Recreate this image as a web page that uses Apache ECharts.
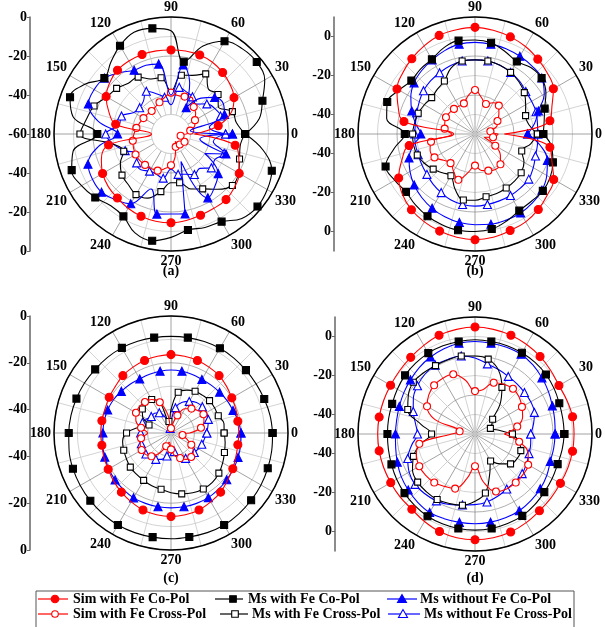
<!DOCTYPE html>
<html><head><meta charset="utf-8">
<script src="https://cdn.jsdelivr.net/npm/echarts@6/dist/echarts.min.js"></script>
<style>html,body{margin:0;padding:0;background:#fff}#c{width:605px;height:627px}</style>
</head><body><div id="c"></div>
<script>
// ---------- data ----------
const angles = [0,10,20,30,40,50,60,70,80,90,100,110,120,130,140,150,160,170,180,190,200,210,220,230,240,250,260,270,280,290,300,310,320,330,340,350];
const angleTicks = [0,30,60,90,120,150,180,210,240,270,300,330];
const seriesNames = ['Sim with Fe Co-Pol','Ms with Fe Co-Pol','Ms without Fe Co-Pol','Sim with Fe Cross-Pol','Ms with Fe Cross-Pol','Ms without Fe Cross-Pol'];
const panelCaptions = ['(a)','(b)','(c)','(d)'];

// (a)  radial range -60 .. 0 dB
const aSimCo = [-48,-35.4,-27,-22.7,-20.5,-18.8,-17.5,-16.9,-16.8,-16.9,-16.7,-16.6,-16.8,-17.3,-19,-21.6,-26,-31.2,-50,-27.5,-22,-19.5,-18,-17.2,-16,-15.1,-14.6,-14.5,-15,-15.7,-16,-16.1,-17.5,-19.6,-23,-26.6];
const aMsCo  = [-22,-14,-10.1,-4.5,-2.6,-3,-5.1,-12,-22.4,-7,-5,-4.5,-7.7,-12,-15.4,-9,-4.9,-9,-22.2,-9,-5.8,-7,-9.3,-12,-11.2,-6,-4.4,-7,-10,-9,-8.1,-3.5,-2.1,-3,-5,-12];
const aNoCo  = [-28.5,-50,-30.8,-29,-30.8,-36,-44.4,-32,-24.1,-40,-23.6,-22.5,-22.2,-19,-15.4,-14.5,-14.9,-22,-32.6,-22,-14.7,-13.5,-13.5,-16,-18.7,-30,-18.3,-19,-18.4,-45,-22.2,-25,-28.4,-40,-30,-45];
const aSimX  = [-52,-50,-47,-45.8,-43.5,-41.9,-38.4,-39.6,-40,-38.8,-41,-42.7,-44,-44.6,-44.2,-43.7,-43,-42,-41,-40.1,-39.5,-39,-39,-39.3,-39.5,-40,-42,-44,-48,-53,-55.6,-53,-51.5,-52,-54,-55];
const aMsX   = [-22,-26,-26.5,-32,-28.5,-30,-24.4,-28,-29.4,-38,-30.7,-30,-26.3,-26,-23.6,-22,-18,-16,-13.3,-30,-34.2,-30,-27.2,-26,-24.1,-25,-30,-35,-34.6,-30,-27.5,-23,-18.9,-20,-22.6,-24];
const aNoX   = [-32,-40,-33,-34,-36,-40,-38,-37,-35.7,-45,-40.9,-38,-34.7,-38,-39,-38,-33,-33,-26.5,-30,-35,-40,-37,-36,-38,-38,-37,-42,-39,-38,-36,-37,-33,-34,-31,-38];

// (b)  radial range -50 .. 10 dB
const bSimCo = [-35,-11,-8,-3.6,-1.5,0.1,1.8,3,4,4.7,4.3,3.8,2.2,0.4,-1.5,-3.8,-8,-13,-39,-15.7,-10,-4.8,-1.5,0.7,2,3,3.8,4.2,3.8,2.7,2,0.5,-1.5,-3.4,-8,-11];
const bMsCo  = [-15,-14,-12,-8,-5.4,-5.5,-7.1,-5,-2.5,-1.8,-1.4,-3,-5.8,-6.5,-7.4,-5,-2.1,-4,-14,-8,-1.2,-2.5,-3.8,-2.5,-1.3,-0.5,0.1,0,-0.5,-2.5,-4.6,-5,-4.6,-5.5,-7.5,-10];
const bNoCo  = [-23,-19,-15.4,-9,-5.3,-4.5,-4,-3.5,-3.2,-3,-3.2,-4.5,-6.1,-7.5,-9.2,-12,-15.5,-19,-22.2,-18,-14,-11.5,-9.3,-7.5,-6,-4.8,-3.9,-3.5,-3,-3,-3.2,-4,-5.2,-7.5,-10.5,-16];
const bSimX  = [-38,-42,-38,-36.7,-34,-31,-31.5,-33.6,-31,-27.4,-30,-33.3,-33.5,-33.2,-33,-32.8,-33.5,-34.2,-38,-27.1,-25.5,-26,-29,-30.5,-28,-25,-30,-33.8,-31,-30,-29,-29.7,-33,-38,-45,-40.6];
const bMsX   = [-18,-22,-22.4,-20,-17,-15,-13.5,-12.5,-12,-12,-12,-14,-18.6,-20,-21,-20,-19,-18.5,-18,-18,-18.5,-20,-22,-24,-25.3,-20,-15.6,-16,-17.3,-17.5,-18,-18.5,-19.1,-21,-24.5,-21];
const bNoX   = [-17.8,-17.5,-16.7,-16.5,-16,-14.5,-13.5,-12.5,-12,-12,-12,-12.8,-13.7,-14.5,-15.5,-17,-18.2,-19,-19.1,-19,-19,-18.5,-17.8,-16.5,-15.3,-14,-13.3,-13,-13.3,-13.5,-13.6,-13.8,-14,-15.5,-17,-17.5];

// (c)  radial range -50 .. 0 dB
const cSimCo = [-21,-21,-20.5,-20,-19,-18,-17.5,-17,-16.7,-16.5,-16.7,-17,-17.5,-18,-19,-19.5,-20,-20,-20,-20,-19.5,-19,-18,-17,-16,-15,-14.5,-14.3,-14.5,-15,-16,-17,-18.5,-19.5,-20.5,-21];
const cMsCo  = [-6.6,-7,-7.6,-8,-8.2,-8.2,-8.2,-8.4,-8.6,-8.7,-8.6,-8.3,-8,-7.8,-7.7,-7.3,-7,-6.6,-6.3,-5.8,-5.4,-5.2,-5,-4.8,-4.6,-4.7,-4.8,-4.8,-4.9,-4.7,-4.6,-4.9,-5.3,-5.6,-6,-6.3];
const cNoCo  = [-20.1,-20.8,-21.8,-22.3,-22.9,-23.3,-23.6,-23.4,-23.2,-23.1,-23.2,-23.3,-23.3,-22.8,-22.3,-21.6,-21.2,-21,-20.9,-20.4,-19.9,-19.3,-18.8,-18.4,-18,-18,-18,-18,-18,-18,-18.1,-18.5,-18.9,-19.2,-19.5,-19.8];
const cSimX  = [-42,-37,-35,-34,-35,-36.4,-38,-42,-46,-48,-42,-36,-33.5,-32.7,-32.5,-32.7,-34,-37,-40,-37,-36,-35.5,-35.8,-37,-40,-44,-46,-43,-40,-38.6,-37,-36.6,-37.5,-40,-43,-45];
const cMsX   = [-27.3,-27,-28.5,-28.5,-28.5,-29,-29.4,-30.5,-32.3,-40,-45,-36,-33.5,-33,-34,-36,-40,-36,-31,-29,-28.5,-28,-27.3,-27,-26.6,-26,-25.6,-24.5,-23.6,-22.8,-22.4,-22.5,-23.3,-24.5,-25.7,-26.5];
const cNoX   = [-34.7,-34,-33,-32.5,-32.5,-33,-34.4,-36,-39,-45,-48,-43,-40,-39,-39,-38,-37,-36.5,-37,-37,-36.5,-36,-36,-36.5,-37,-38,-40,-44,-42,-39,-37.5,-37,-37,-36.5,-36,-35.5];

// (d)  radial range -50 .. 10 dB
const dSimCo = [0.8,0.8,0.2,-0.3,0.7,1.9,3,3.9,4.5,4.9,4.5,3.9,2.5,1.3,0.5,0,-0.1,-0.1,-0.1,-0.1,-0.1,-0.1,0.2,0.4,1.8,3.2,4,4.2,4,3.5,2.5,1.4,0.9,0.6,0.7,0.8];
const dMsCo  = [-4.2,-4.3,-4,-3.2,-2.5,-2.1,-1.9,-1.8,-1.8,-1.7,-1.8,-1.9,-2.1,-2.6,-3.2,-4,-4.8,-5,-5.1,-4.9,-4.4,-3.6,-2.8,-2,-1.3,-1,-0.8,-0.7,-0.8,-1.1,-1.5,-2.5,-3.6,-4.3,-4.9,-4.6];
const dNoCo  = [-8.9,-8.5,-7.8,-6.5,-5.2,-3.8,-2.8,-2.7,-2.7,-2.6,-2.7,-3.5,-4.4,-5.5,-6.8,-7.8,-8.7,-9.2,-9.2,-8.7,-7.6,-6.3,-5.3,-4.3,-3.5,-3.8,-4,-4,-4.1,-4.3,-4.6,-5.4,-6.3,-7.5,-8.9,-9];
const dSimX  = [-35,-28,-24,-22.2,-20.5,-19.7,-20.5,-22,-27,-28,-22,-17.4,-17,-17.4,-19,-21.6,-28,-42,-38,-21,-18,-17,-17,-17.5,-19,-20.2,-27,-33.5,-25,-18.6,-17.5,-17.5,-17.8,-18.5,-21,-27];
const dMsX   = [-30.8,-38,-41.6,-40,-38.2,-30,-22.4,-15,-11,-10,-9.4,-9.5,-9.5,-9,-8.7,-10.5,-13.3,-22,-27.7,-22,-16.4,-13,-11.6,-11.3,-11.2,-12,-12.9,-15.5,-19.3,-28,-34,-30,-26.2,-25,-25,-27];
const dNoX   = [-21.4,-19.5,-17.6,-17,-16.9,-16.5,-15.9,-14.8,-13.5,-11,-9.4,-9.3,-9.2,-10,-11.5,-13.5,-16.3,-19,-20.5,-17,-13.3,-11,-9.8,-10,-10.4,-11.5,-13,-13.8,-14.6,-16,-17.4,-18,-18.4,-19.5,-20.5,-21];

const panels = [
  {sets:[aSimCo,aMsCo,aNoCo,aSimX,aMsX,aNoX], rmin:-60, rmax:0,  leftMin:-60, leftMax:60, leftTicks:[-60,-40,-20,0,20,40,60], offset:60},
  {sets:[bSimCo,bMsCo,bNoCo,bSimX,bMsX,bNoX], rmin:-50, rmax:10, leftMin:-60, leftMax:60, leftTicks:[-50,-30,-10,10,30,50], offset:50},
  {sets:[cSimCo,cMsCo,cNoCo,cSimX,cMsX,cNoX], rmin:-50, rmax:0,  leftMin:-50, leftMax:50, leftTicks:[-50,-30,-10,10,30,50], offset:50},
  {sets:[dSimCo,dMsCo,dNoCo,dSimX,dMsX,dNoX], rmin:-50, rmax:10, leftMin:-60, leftMax:60, leftTicks:[-50,-30,-10,10,30,50], offset:50}
];

// ---------- layout / style ----------
const FONT = "'Liberation Serif','Times New Roman',serif";
const centers = [[171,134],[475,134],[171,433],[475,434]];
const R = 117;
const axisX = [30,334,30,335];
const captionTop = [264,264,571,571];
const styles = [
  {color:'#ff0000', symbol:'circle',   size:8, filled:true,  odd:1},
  {color:'#000000', symbol:'rect',     size:7, filled:true,  odd:0},
  {color:'#0000ff', symbol:'triangle', size:8, filled:true,  odd:0},
  {color:'#ff0000', symbol:'circle',   size:7, filled:false, odd:1},
  {color:'#000000', symbol:'rect',     size:6, filled:false, odd:0},
  {color:'#0000ff', symbol:'triangle', size:8, filled:false, odd:0}
];

const polar=[], angleAxis=[], radiusAxis=[], grid=[], xAxis=[], yAxis=[], series=[], graphic=[];
panels.forEach((p,i)=>{
  polar.push({center:centers[i], radius:R});
  angleAxis.push({
    polarIndex:i, type:'value', min:0, max:360, interval:15, startAngle:0, clockwise:false,
    axisLine:{lineStyle:{color:'#000', width:1.5}}, axisTick:{show:false},
    axisLabel:{formatter:v=> angleTicks.indexOf(v)>=0 ? String(v) : '', color:'#000', fontFamily:FONT, fontWeight:'bold', fontSize:14, margin:3},
    splitLine:{show:true, lineStyle:{color:['#8a8a8a','#c8c8c8'], width:0.8}}
  });
  const darkFirst = ((p.rmax - p.rmin)/10) % 2 === 0;
  radiusAxis.push({
    polarIndex:i, type:'value', min:p.rmin, max:p.rmax, interval:10,
    axisLine:{show:false}, axisTick:{show:false}, axisLabel:{show:false},
    splitLine:{show:true, lineStyle:{color: darkFirst?['#9a9a9a','#c8c8c8']:['#c8c8c8','#9a9a9a'], width:0.8}}
  });
  grid.push({left:axisX[i], top:centers[i][1]-R, width:10, height:2*R});
  xAxis.push({gridIndex:i, type:'value', show:false});
  yAxis.push({
    gridIndex:i, type:'value', min:p.leftMin, max:p.leftMax, interval:10, position:'left',
    axisLine:{show:true, lineStyle:{color:'#666', width:1.5}},
    axisTick:{show:true, length:3, customValues:p.leftTicks, lineStyle:{color:'#666'}},
    axisLabel:{customValues:p.leftTicks, formatter:v=>String(Math.abs(v)-p.offset), color:'#000', fontFamily:FONT, fontWeight:'bold', fontSize:14, margin:3},
    splitLine:{show:false}
  });
  p.sets.forEach((vals,k)=>{
    const st = styles[k];
    const data = vals.map((v,j)=>[v, angles[j]]);
    data.push([vals[0], 360]);
    series.push({
      type:'line', coordinateSystem:'polar', polarIndex:i, name:seriesNames[k], data,
      smooth:0.4, showAllSymbol:true, animation:false,
      symbol:(val,params)=> (params.dataIndex % 2 === st.odd ? st.symbol : 'none'),
      symbolSize:st.size,
      lineStyle:{color:st.color, width:1.1},
      itemStyle:{color: st.filled ? st.color : '#fff', borderColor:st.color, borderWidth:1.1},
      z: 3 + (5-k)*0.1
    });
  });
  graphic.push({type:'text', x:centers[i][0], y:captionTop[i],
    style:{text:panelCaptions[i], font:'bold 14px '+FONT, fill:'#000', align:'center'}, z:8});
});

// white centre disc of panel (a)
graphic.push({type:'circle', shape:{cx:centers[0][0], cy:centers[0][1], r:R/6}, style:{fill:'#fff', stroke:'#c8c8c8', lineWidth:0.8}, z:1});

// legend box
graphic.push({type:'rect', shape:{x:36, y:591, width:538, height:60}, style:{fill:'none', stroke:'#555', lineWidth:1}, z:5});
const legendPos = [
  {x1:38, x2:68, mx:55, tx:73, y:599},
  {x1:215, x2:243, mx:233, tx:248, y:599},
  {x1:387, x2:417, mx:402, tx:420, y:599},
  {x1:38, x2:68, mx:55, tx:73, y:614},
  {x1:220, x2:248, mx:235, tx:252, y:614},
  {x1:388, x2:420, mx:403, tx:424, y:614}
];
legendPos.forEach((L,k)=>{
  const st = styles[k];
  const fill = st.filled ? st.color : '#fff';
  graphic.push({type:'line', shape:{x1:L.x1, y1:L.y, x2:L.x2, y2:L.y}, style:{stroke:st.color, lineWidth:1.2}, z:6});
  if (st.symbol==='circle') graphic.push({type:'circle', shape:{cx:L.mx, cy:L.y, r:st.filled?3.8:3.3}, style:{fill, stroke:st.color, lineWidth:1.1}, z:7});
  else if (st.symbol==='rect') graphic.push({type:'rect', shape:{x:L.mx-3.3, y:L.y-3.3, width:6.6, height:6.6}, style:{fill, stroke:st.color, lineWidth:1.1}, z:7});
  else graphic.push({type:'polygon', shape:{points:[[L.mx,L.y-4.5],[L.mx-4.5,L.y+3.5],[L.mx+4.5,L.y+3.5]]}, style:{fill, stroke:st.color, lineWidth:1.1}, z:7});
  graphic.push({type:'text', x:L.tx, y:L.y, style:{text:seriesNames[k], font:'bold 14px '+FONT, fill:'#000', verticalAlign:'middle'}, z:7});
});

const chart = echarts.init(document.getElementById('c'), null, {renderer:'canvas'});
chart.setOption({animation:false, backgroundColor:'#fff', polar, angleAxis, radiusAxis, grid, xAxis, yAxis, series, graphic});
</script></body></html>
